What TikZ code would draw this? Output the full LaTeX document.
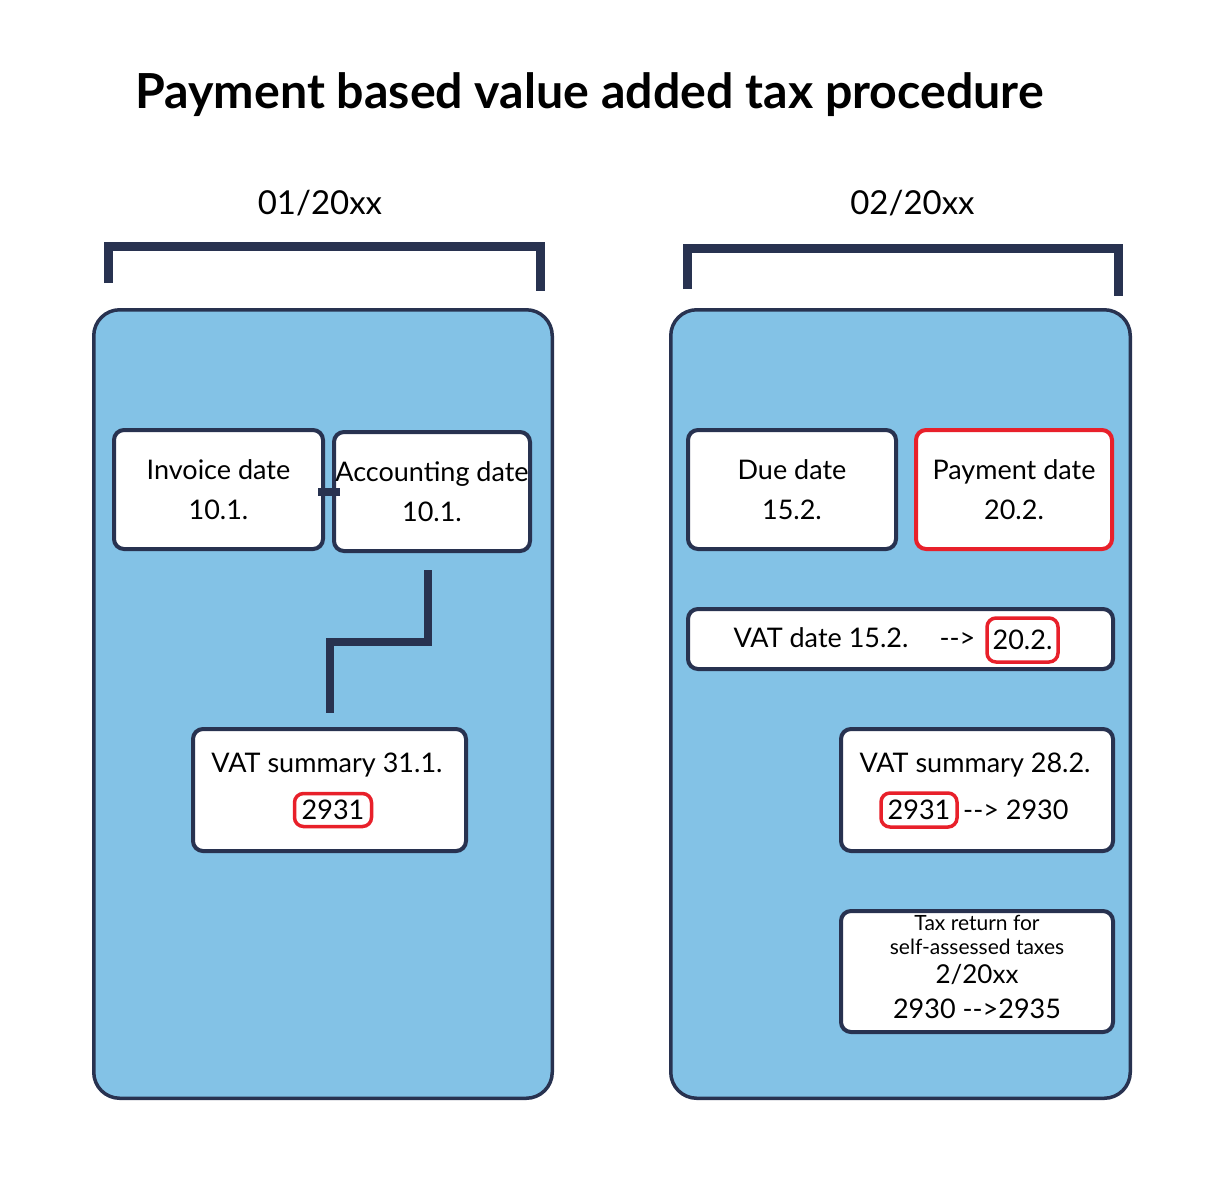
\documentclass[tikz,border=0pt]{standalone}
\usepackage{fontspec}
\setmainfont{Lato}
\usepackage{xcolor}
\usetikzlibrary{positioning}

\definecolor{navy}{RGB}{40,50,80}
\definecolor{skyfill}{RGB}{131,194,230}
\definecolor{tagred}{RGB}{232,32,42}

\newcommand\boxfont{\fontsize{27}{40}\selectfont}
\newcommand\smallboxfont{\fontsize{21}{25}\selectfont}

\begin{document}
\begin{tikzpicture}[
x=1pt,
y=-1pt,
panel/.style={
draw=navy,
line width=3.5pt,
fill=skyfill,
rounded corners=26pt,
inner sep=0pt
},
box/.style={
draw=navy,
line width=4pt,
fill=white,
rounded corners=10pt,
inner sep=0pt,
align=center,
font=\boxfont
},
paybox/.style={
box,
draw=tagred
},
tag/.style={
draw=tagred,
line width=3.5pt,
rounded corners=9pt,
inner sep=0pt,
font=\boxfont
},
lbl/.style={
inner sep=0pt,
anchor=base,
font=\boxfont
},
bracket/.style={
draw=navy,
line width=9pt
},
link/.style={
draw=navy,
line width=8pt
}
]

\useasboundingbox (0,0) rectangle (1223,1179);

\node[anchor=base, inner sep=0pt, font=\fontsize{48.3}{56}\selectfont\bfseries] (title) at (589.5,108) {Payment based value added tax procedure};

\node[anchor=base, inner sep=0pt, font=\fontsize{33}{40}\selectfont] (monA) at (320,214) {01/20xx};
\node[anchor=base, inner sep=0pt, font=\fontsize{33}{40}\selectfont] (monB) at (912.5,214) {02/20xx};

% period brackets
\draw[bracket] (108,283) -- (108,246.5) -- (540,246.5) -- (540,291);
\draw[bracket] (687,289) -- (687,248) -- (1118.5,248) -- (1118.5,296);

% month panels
\node[panel, minimum width=458.5pt, minimum height=788.5pt] (panelA) at (323,704) {};
\node[panel, minimum width=459.5pt, minimum height=788.5pt] (panelB) at (900.5,704) {};

% January
\node[box, minimum width=209pt, minimum height=119pt] (inv) at (218.5,489.5) {Invoice date\\10.1.};
\node[box, minimum width=196pt, minimum height=119pt, right=7pt of inv, yshift=-2pt] (acc) {Accounting date\\10.1.};
\node[box, minimum width=273pt, minimum height=122pt] (sumA) at (329.5,790) {};
\node[lbl] (sumAtxt) at (327,772) {VAT summary 31.1.};
\node[tag, minimum width=77pt, minimum height=33pt] (sumAacc) at (333,810) {2931};

\draw[link, shorten <=-7pt, shorten >=-8pt] (inv.east |- acc.west) -- (acc.west);
\draw[link, shorten <=17pt, shorten >=14pt] ([xshift=-4pt]acc.south) -- ++(0,89) -| (sumA.north);

% February
\node[box, minimum width=208pt, minimum height=119pt] (due) at (792,489.5) {Due date\\15.2.};
\node[paybox, minimum width=196pt, minimum height=119pt, right=16pt of due] (pay) {Payment date\\20.2.};

\node[box, minimum width=425pt, minimum height=60pt] (vatd) at (900.5,639) {};
\node[lbl] (vatdtxt) at (821,647) {VAT date 15.2.};
\node[lbl] (vatdarr) at (957.5,647) {-{}->};
\node[tag, minimum width=71pt, minimum height=44pt] (vatdnew) at (1022.5,640) {20.2.};

\node[box, minimum width=272pt, minimum height=122pt] (sumB) at (977,790) {};
\node[lbl] (sumBtxt) at (975,772) {VAT summary 28.2.};
\node[tag, minimum width=76pt, minimum height=34pt] (sumBacc) at (919,810) {2931};
\node[lbl, anchor=base west] (sumBnew) at (963,819) {-{}-> 2930};

\node[box, minimum width=272pt, minimum height=121pt] (ret) at (977,971.5) {};
\node[lbl, font=\smallboxfont] (retA) at (977,930) {Tax return for};
\node[lbl, font=\smallboxfont] (retB) at (977,954) {self-assessed taxes};
\node[lbl, font=\fontsize{26}{30}\selectfont] (retC) at (977,983) {2/20xx};
\node[lbl] (retD) at (977,1018) {2930 -{}->2935};

\end{tikzpicture}
\end{document}
